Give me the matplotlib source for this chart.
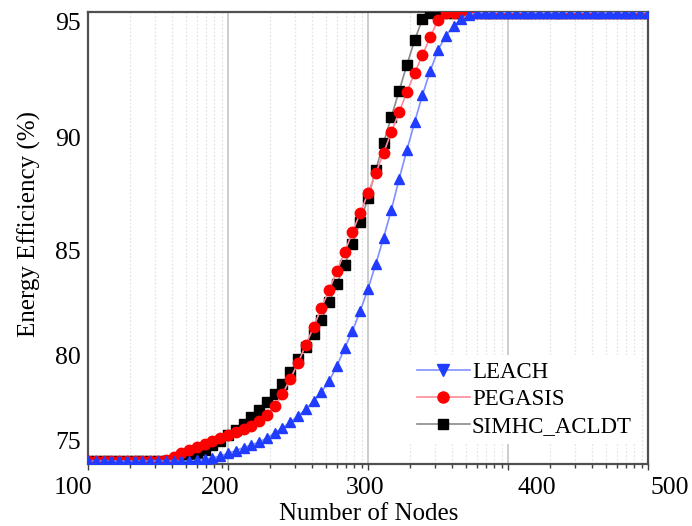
import numpy as np
import matplotlib
matplotlib.use("Agg")
import matplotlib.pyplot as plt
from matplotlib.lines import Line2D

plt.rcParams['font.family'] = ['Liberation Serif', 'DejaVu Serif']

# number of nodes (73 samples from 100 to 500)
nodes = np.linspace(100, 500, 73)

# energy efficiency (%)
leach = [73.76] * 14 + [
    73.82, 73.88, 73.94, 74.06, 74.21, 74.38, 74.56, 74.71, 74.88, 75.12,
    75.41, 75.71, 76.06, 76.41, 76.82, 77.29, 77.82, 78.47, 79.35, 80.33,
    81.14, 82.10, 83.14, 84.33, 85.54, 86.79, 88.17, 89.46, 90.69, 91.85,
    92.89, 93.79, 94.40, 94.83, 95.13, 95.32, 95.39] + [95.4] * 22

pegasis = [73.76] * 10 + [
    73.82, 74.0, 74.21, 74.41, 74.59, 74.76, 74.94, 75.12, 75.29, 75.47,
    75.65, 75.85, 76.12, 76.47, 77.0, 77.71, 78.59, 79.53, 80.48, 81.33,
    82.24, 83.10, 84.0, 84.90, 85.80, 86.65, 87.54, 88.44, 89.33, 90.26,
    91.12, 91.98, 92.80, 93.58, 94.35, 95.09] + [95.4] * 27

simhc = [73.76] * 12 + [
    73.88, 74.0, 74.18, 74.41, 74.68, 74.97, 75.29, 75.59, 75.97, 76.35,
    76.76, 77.24, 77.71, 78.29, 79.0, 79.76, 80.38, 81.0, 81.67, 82.52,
    83.38, 84.29, 85.27, 86.25, 87.32, 88.57, 89.78, 90.91, 92.03, 93.15,
    94.22, 95.13] + [95.4] * 29

y_ticks = [75, 80, 85, 90, 95]
x_ticks = [100, 200, 300, 400, 500]

# the y labels of the original are not evenly spaced: piecewise scale
knot_vals = [70, 75, 80, 85, 90, 95, 100]
knot_pos = [-61, 24, 109, 214, 326, 442, 558]


def fwd(v):
    return np.interp(v, knot_vals, knot_pos)


def inv(p):
    return np.interp(p, knot_pos, knot_vals)


fig = plt.figure(figsize=(6.92, 5.26), dpi=100)
ax = fig.add_axes([88 / 692, 1 - 464 / 526, 560 / 692, 452 / 526])
ax.set_yscale('function', functions=(fwd, inv))

ax.plot(nodes, simhc, color='#8a8a8a', lw=1.2, marker='s', ms=6.5,
        mfc='black', mec='black', zorder=3)
ax.plot(nodes, pegasis, color='#ff8a9a', lw=1.2, marker='o', ms=7.5,
        mfc='#ff0000', mec='#ff0000', zorder=4)
ax.plot(nodes, leach, color='#8090ff', lw=1.2, marker='^', ms=7.5,
        mfc='#1f3cff', mec='#1f3cff', zorder=5)

ax.set_xlim(100, 500)
ax.set_ylim(73.59, 95.43)

ax.set_yticks(y_ticks)
ax.set_yticklabels([str(t) for t in y_ticks])
ax.tick_params(axis='y', length=0, pad=5, labelsize=18.5)
ax.yaxis.set_minor_locator(matplotlib.ticker.NullLocator())

minor = [n + 100 * np.log10(k) for n in x_ticks[:-1] for k in range(2, 10)]
ax.set_xticks(x_ticks)
ax.set_xticks(minor, minor=True)
ax.set_xticklabels([])
ax.tick_params(axis='x', which='major', length=4, width=1, color='#404040')
ax.tick_params(axis='x', which='minor', length=3, width=1, color='#404040')

for g in x_ticks[1:-1]:
    ax.axvline(g, color='#c4c4c4', lw=1.2, zorder=1)
for g in minor:
    ax.axvline(g, color='#e4e4e4', lw=0.9, ls=(0, (1.5, 1.5)), zorder=1)

# tick labels sit a bit off their grid lines in the original
label_x = [89.3, 194.3, 297.9, 420.7, 515.7]
for t, lx in zip(x_ticks, label_x):
    ax.text(lx, -0.053, str(t), transform=ax.get_xaxis_transform(),
            ha='center', va='center', fontsize=18.5, clip_on=False)

for s in ax.spines.values():
    s.set_color('#505050')
    s.set_linewidth(1.6)

fig.text(369 / 692, 1 - 514 / 526, 'Number of Nodes', ha='center',
         va='center', fontsize=18)
fig.text(29 / 692, 1 - 224 / 526, 'Energy Efficiency (%)', ha='center',
         va='center', rotation=90, fontsize=18)

handles = [
    Line2D([], [], color='#8090ff', lw=1.2, marker='v', ms=8,
           mfc='#1f3cff', mec='#1f3cff'),
    Line2D([], [], color='#ff8a9a', lw=1.2, marker='o', ms=8,
           mfc='#ff0000', mec='#ff0000'),
    Line2D([], [], color='#8a8a8a', lw=1.2, marker='s', ms=6.5,
           mfc='black', mec='black'),
]
leg = ax.legend(handles, ['LEACH', 'PEGASIS', 'SIMHC_ACLDT'],
                loc='lower left', bbox_to_anchor=(0.575, 0.045),
                fontsize=16.5, handlelength=2.3, handletextpad=0.1,
                labelspacing=0.25, borderpad=0.3, borderaxespad=0,
                frameon=True, fancybox=False, framealpha=1,
                facecolor='white', edgecolor='none')
leg.set_zorder(6)

fig.savefig('out.png', dpi=100)
